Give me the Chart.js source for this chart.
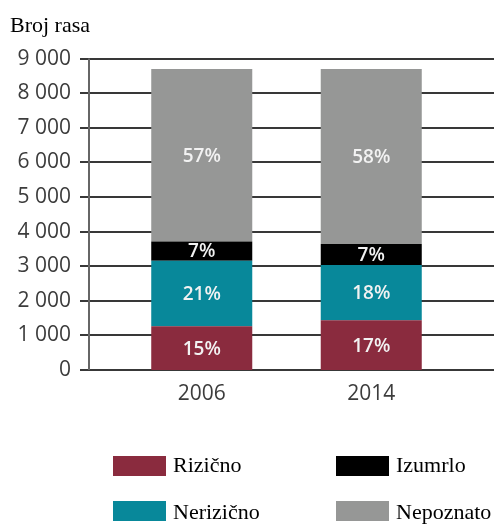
<!DOCTYPE html>
<html><head><meta charset="utf-8">
<script src="https://cdn.jsdelivr.net/npm/chart.js@4/dist/chart.umd.min.js"></script>
<style>html,body{margin:0;padding:0;background:#fff;}</style>
</head><body>
<canvas id="c" width="494" height="528"></canvas>
<script>
// ---- data ----
const categories = ['2006', '2014'];
const seriesNames = ['Rizično', 'Nerizično', 'Izumrlo', 'Nepoznato'];
const rizicno   = [1265, 1435];
const nerizicno = [1895, 1600];
const izumrlo   = [555, 605];
const nepoznato = [4985, 5060];
const pctRizicno   = ['15%', '17%'];
const pctNerizicno = ['21%', '18%'];
const pctIzumrlo   = ['7%', '7%'];
const pctNepoznato = ['57%', '58%'];
const yTickValues = [0, 1000, 2000, 3000, 4000, 5000, 6000, 7000, 8000, 9000];
const titleText = 'Broj rasa';

// ---- styles ----
const colors = ['#8a2b3e', '#08889a', '#000000', '#969796'];
const seriesValues = [rizicno, nerizicno, izumrlo, nepoznato];
const seriesPct = [pctRizicno, pctNerizicno, pctIzumrlo, pctNepoznato];

function fmt(v) {
  const s = String(v);
  return s.length > 3 ? s.slice(0, s.length - 3) + ' ' + s.slice(-3) : s;
}

const decor = {
  id: 'decor',
  beforeDatasetsDraw(chart) {
    const ctx = chart.ctx, y = chart.scales.y;
    ctx.save();
    ctx.strokeStyle = '#383838';
    ctx.lineWidth = 2;
    yTickValues.forEach(v => {
      const py = Math.round(y.getPixelForValue(v));
      ctx.beginPath(); ctx.moveTo(80, py); ctx.lineTo(chart.width, py); ctx.stroke();
    });
    ctx.strokeStyle = '#666';
    ctx.lineWidth = 2;
    ctx.beginPath();
    ctx.moveTo(89, y.getPixelForValue(9000)); ctx.lineTo(89, y.getPixelForValue(0)); ctx.stroke();
    ctx.restore();
  },
  afterDatasetsDraw(chart) {
    const ctx = chart.ctx;
    ctx.save();
    ctx.fillStyle = '#f2f2f2';
    ctx.font = '600 19px "Open Sans"';
    ctx.textAlign = 'center';
    ctx.textBaseline = 'middle';
    chart.data.datasets.forEach((ds, di) => {
      const meta = chart.getDatasetMeta(di);
      meta.data.forEach((el, i) => {
        ctx.fillText(seriesPct[di][i], el.x, (el.y + el.base) / 2 + 1);
      });
    });
    ctx.restore();
  },
  afterDraw(chart) {
    const ctx = chart.ctx;
    ctx.save();
    ctx.fillStyle = '#000';
    ctx.font = '22px "Liberation Serif"';
    ctx.textAlign = 'left';
    ctx.textBaseline = 'alphabetic';
    ctx.fillText(titleText, 10, 32);
    // legend: column-major 2x2
    const colX = [113, 336], rowY = [456, 501];
    chart.data.datasets.forEach((ds, i) => {
      const col = Math.floor(i / 2), row = i % 2;
      const bx = colX[col], by = rowY[row];
      ctx.fillStyle = ds.backgroundColor;
      ctx.fillRect(bx, by, 53, 20);
      ctx.fillStyle = '#000';
      ctx.fillText(ds.label, bx + 60, by + 16 + row * 2);
    });
    ctx.restore();
  }
};

new Chart(document.getElementById('c'), {
  type: 'bar',
  data: {
    labels: categories,
    datasets: seriesNames.map((n, i) => ({
      label: n,
      data: seriesValues[i],
      backgroundColor: colors[i],
      borderWidth: 0,
      barPercentage: 0.596,
      categoryPercentage: 1.0
    }))
  },
  options: {
    responsive: false,
    animation: false,
    devicePixelRatio: 1,
    layout: { padding: { left: 0, right: 38, top: 57, bottom: 108 } },
    plugins: { legend: { display: false }, title: { display: false }, tooltip: { enabled: false } },
    scales: {
      x: {
        stacked: true, offset: true,
        grid: { display: false, drawTicks: false }, border: { display: false },
        ticks: { color: '#3c3c3c', font: { family: 'Open Sans', size: 21 }, padding: 11 },
        afterFit(s) { s.height = 50; }
      },
      y: {
        stacked: true, min: 0, max: 9000,
        grid: { display: false, drawTicks: false }, border: { display: false },
        afterBuildTicks(s) { s.ticks = yTickValues.map(v => ({ value: v })); },
        ticks: { color: '#3c3c3c', font: { family: 'Open Sans', size: 21 }, padding: 46, callback: v => fmt(v) },
        afterFit(s) { s.width = 117; }
      }
    }
  },
  plugins: [decor]
});
</script>
</body></html>
